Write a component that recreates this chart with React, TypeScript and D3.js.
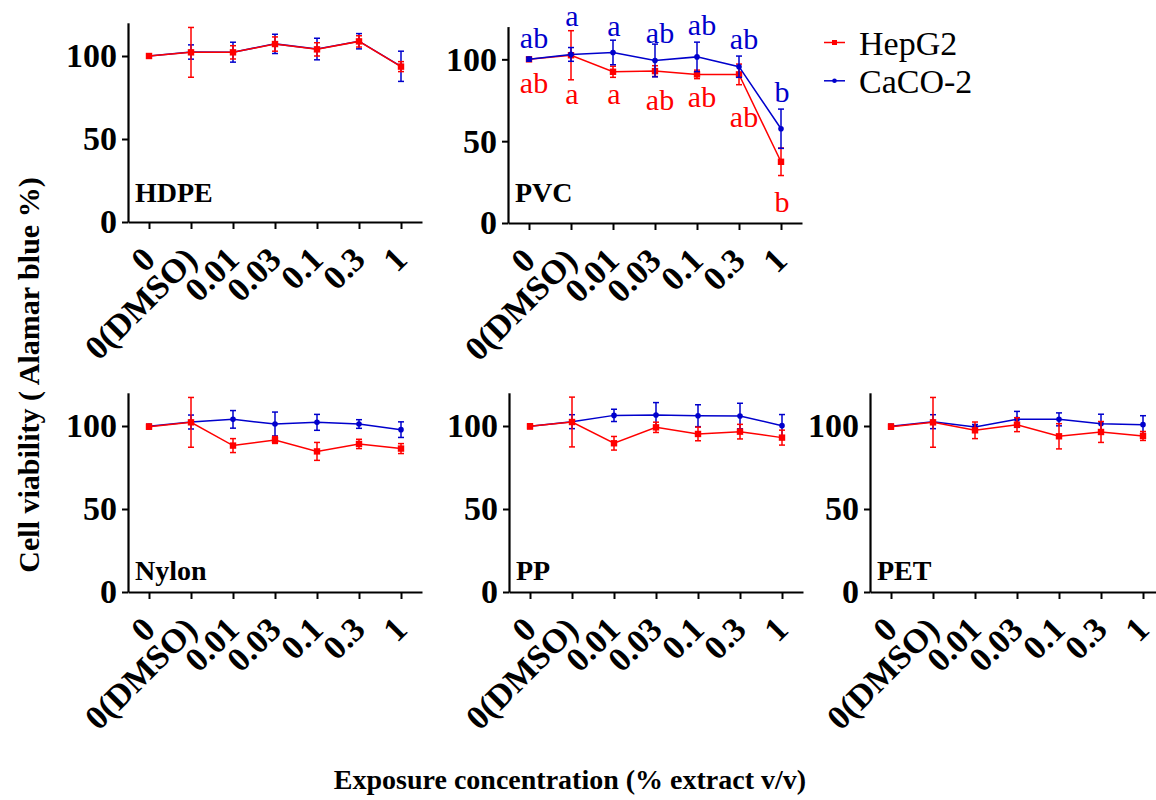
import * as d3 from "d3";
import { useEffect, useRef } from "react";

// x categories (% extract v/v)
const concentrations = ["0", "0(DMSO)", "0.01", "0.03", "0.1", "0.3", "1"];
const yTicks = [0, 50, 100];

// HDPE
const hdpeHepG2 = [100, 102.2, 102.2, 107.2, 104, 108.8, 93.6];
const hdpeHepG2Err = [1.2, 15, 4, 4.3, 4, 3.4, 3];
const hdpeCaco = [100, 102.4, 102.3, 107.3, 104.2, 108.9, 93.8];
const hdpeCacoErr = [1.2, 4.3, 6, 5.8, 6.5, 4.6, 9.1];

// PVC
const pvcHepG2 = [100, 102.5, 92.4, 92.8, 90.8, 90.8, 37.4];
const pvcHepG2Err = [1.2, 15, 3.4, 3.3, 2.6, 6.3, 8.4];
const pvcCaco = [100.1, 103, 104.2, 99.3, 101.5, 95.5, 57.6];
const pvcCacoErr = [1.2, 4.2, 7.5, 10, 9, 6.5, 12];
const pvcHepG2Letters = ["ab", "a", "a", "ab", "ab", "ab", "b"];
const pvcHepG2LetterAt = [79.5, 72.8, 72.8, 69.2, 71, 58.9, 6.7];
const pvcCacoLetters = ["ab", "a", "a", "ab", "ab", "ab", "b"];
const pvcCacoLetterAt = [106.8, 120.1, 114.1, 109.8, 114.7, 106.2, 74];

// Nylon
const nylonHepG2 = [99.6, 102.2, 88.2, 91.6, 84.7, 89.2, 86.4];
const nylonHepG2Err = [1.5, 15, 4.2, 2.1, 5.4, 2.8, 3];
const nylonCaco = [99.8, 102.4, 104, 101.2, 102.2, 101.2, 97.8];
const nylonCacoErr = [1.2, 4.2, 5.3, 7.2, 4.8, 2.6, 4.7];

// PP
const ppHepG2 = [99.8, 102.4, 89.6, 99.2, 95.2, 96.6, 93];
const ppHepG2Err = [1.5, 15, 4.1, 3.1, 4.1, 4.4, 4.5];
const ppCaco = [99.8, 102.6, 106.4, 106.6, 106.2, 106, 100.2];
const ppCacoErr = [1.2, 4.2, 3.7, 7.5, 6.6, 7.7, 6.7];

// PET
const petHepG2 = [99.6, 102.2, 97.4, 100.8, 93.8, 96.4, 94];
const petHepG2Err = [1.5, 15, 5, 4.2, 7.6, 6.3, 2.7];
const petCaco = [99.8, 102.6, 99.4, 104, 104, 101.4, 100.8];
const petCacoErr = [1.2, 4.2, 1.5, 4.8, 3.9, 5.7, 5.4];

const RED = "#FF0000";
const BLUE = "#0000CC";
const FONT = "'Liberation Serif', 'Times New Roman', serif";

const panels = [
  { name: "HDPE", hep: hdpeHepG2, hepErr: hdpeHepG2Err, caco: hdpeCaco, cacoErr: hdpeCacoErr, left: 128, bottom: 222, top: 22.8, nameGap: 20, blueOnTop: false },
  { name: "PVC", hep: pvcHepG2, hepErr: pvcHepG2Err, caco: pvcCaco, cacoErr: pvcCacoErr, left: 508, bottom: 223, top: 26.6, nameGap: 21, blueOnTop: true },
  { name: "Nylon", hep: nylonHepG2, hepErr: nylonHepG2Err, caco: nylonCaco, cacoErr: nylonCacoErr, left: 128, bottom: 592, top: 392.8, nameGap: 12, blueOnTop: false },
  { name: "PP", hep: ppHepG2, hepErr: ppHepG2Err, caco: ppCaco, cacoErr: ppCacoErr, left: 509, bottom: 592, top: 392.8, nameGap: 12, blueOnTop: false },
  { name: "PET", hep: petHepG2, hepErr: petHepG2Err, caco: petCaco, cacoErr: petCacoErr, left: 870, bottom: 592, top: 392.8, nameGap: 12, blueOnTop: false },
];

const App = () => {
  const ref = useRef<SVGSVGElement>(null);

  useEffect(() => {
    const svg = d3.select(ref.current);
    svg.selectAll("*").remove();

    panels.forEach((p) => {
      const x = d3.scalePoint<string>().domain(concentrations).range([p.left, p.left + 294]).padding(0.5);
      const y = d3.scaleLinear().domain([0, 120]).range([p.bottom, p.top]);
      const g = svg.append("g");

      // y axis
      const ya = g
        .append("g")
        .attr("transform", `translate(${p.left},0)`)
        .call(d3.axisLeft(y).tickValues(yTicks).tickSize(6).tickSizeOuter(0).tickPadding(5))
        .attr("font-family", FONT)
        .attr("font-size", 34)
        .attr("font-weight", "bold");
      ya.select(".domain").attr("stroke-width", 2.2);
      ya.selectAll(".tick line").attr("stroke-width", 2);
      ya.selectAll(".tick text").attr("fill", "#000");

      // x axis, rotated labels
      const xa = g
        .append("g")
        .attr("transform", `translate(0,${p.bottom})`)
        .call(d3.axisBottom(x).tickSize(7).tickSizeOuter(0))
        .attr("font-family", FONT)
        .attr("font-size", 34)
        .attr("font-weight", "bold");
      xa.select(".domain").attr("stroke-width", 2.2);
      xa.selectAll(".tick line").attr("stroke-width", 2);
      xa.selectAll(".tick text")
        .attr("fill", "#000")
        .attr("x", 0)
        .attr("y", 0)
        .attr("dy", "0.35em")
        .attr("transform", "translate(-1,31) rotate(-45)")
        .style("text-anchor", "end");

      // panel name
      g.append("text")
        .attr("x", p.left + 7)
        .attr("y", p.bottom - p.nameGap)
        .attr("font-family", FONT)
        .attr("font-size", 28)
        .attr("font-weight", "bold")
        .text(p.name);

      const line = d3
        .line<number>()
        .x((_, i) => x(concentrations[i]) as number)
        .y((d) => y(d));

      const drawSeries = (vals: number[], errs: number[], color: string, square: boolean) => {
        const s = g.append("g");
        s.append("path")
          .datum(vals)
          .attr("d", line)
          .attr("fill", "none")
          .attr("stroke", color)
          .attr("stroke-width", 1.5);
        vals.forEach((v, i) => {
          const cx = x(concentrations[i]) as number;
          const e = errs[i];
          s.append("line").attr("x1", cx).attr("x2", cx).attr("y1", y(v - e)).attr("y2", y(v + e))
            .attr("stroke", color).attr("stroke-width", 1.5);
          [v - e, v + e].forEach((c) => {
            s.append("line").attr("x1", cx - 3).attr("x2", cx + 3).attr("y1", y(c)).attr("y2", y(c))
              .attr("stroke", color).attr("stroke-width", 1.5);
          });
          if (square) {
            s.append("rect").attr("x", cx - 3.2).attr("y", y(v) - 3.2).attr("width", 6.4).attr("height", 6.4).attr("fill", color);
          } else {
            s.append("circle").attr("cx", cx).attr("cy", y(v)).attr("r", 2.8).attr("fill", color);
          }
        });
      };

      if (p.blueOnTop) {
        drawSeries(p.hep, p.hepErr, RED, true);
        drawSeries(p.caco, p.cacoErr, BLUE, false);
      } else {
        drawSeries(p.caco, p.cacoErr, BLUE, false);
        drawSeries(p.hep, p.hepErr, RED, true);
      }

      // significance letters (PVC only)
      if (p.name === "PVC") {
        const drawLetters = (letters: string[], at: number[], color: string) => {
          letters.forEach((l, i) => {
            g.append("text")
              .attr("x", (x(concentrations[i]) as number) + (l.length > 1 ? 5 : 1))
              .attr("y", y(at[i]))
              .attr("text-anchor", "middle")
              .attr("font-family", FONT)
              .attr("font-size", 30)
              .attr("fill", color)
              .text(l);
          });
        };
        drawLetters(pvcCacoLetters, pvcCacoLetterAt, BLUE);
        drawLetters(pvcHepG2Letters, pvcHepG2LetterAt, RED);
      }
    });

    // legend
    const legend = svg.append("g").attr("font-family", FONT).attr("font-size", 34);
    [
      { label: "HepG2", color: RED, square: true, y: 55 },
      { label: "CaCO-2", color: BLUE, square: false, y: 93.3 },
    ].forEach((d) => {
      const ly = d.y - 12.5;
      legend.append("line").attr("x1", 824).attr("x2", 845).attr("y1", ly).attr("y2", ly).attr("stroke", d.color).attr("stroke-width", 1.5);
      if (d.square) {
        legend.append("rect").attr("x", 832).attr("y", ly - 2.5).attr("width", 5).attr("height", 5).attr("fill", d.color);
      } else {
        legend.append("circle").attr("cx", 834.5).attr("cy", ly).attr("r", 2.3).attr("fill", d.color);
      }
      legend.append("text").attr("x", 859).attr("y", d.y).text(d.label);
    });

    // axis titles
    svg.append("text")
      .attr("transform", "translate(39,375) rotate(-90)")
      .attr("text-anchor", "middle")
      .attr("font-family", FONT)
      .attr("font-size", 30)
      .attr("font-weight", "bold")
      .text("Cell viability ( Alamar blue %)");

    svg.append("text")
      .attr("x", 570)
      .attr("y", 789)
      .attr("text-anchor", "middle")
      .attr("font-family", FONT)
      .attr("font-size", 28)
      .attr("font-weight", "bold")
      .text("Exposure concentration (% extract v/v)");
  }, []);

  return (
    <svg
      ref={ref}
      width={1156}
      height={800}
      style={{ position: "absolute", left: 0, top: 0, background: "#fff" }}
    />
  );
};

export default App;
